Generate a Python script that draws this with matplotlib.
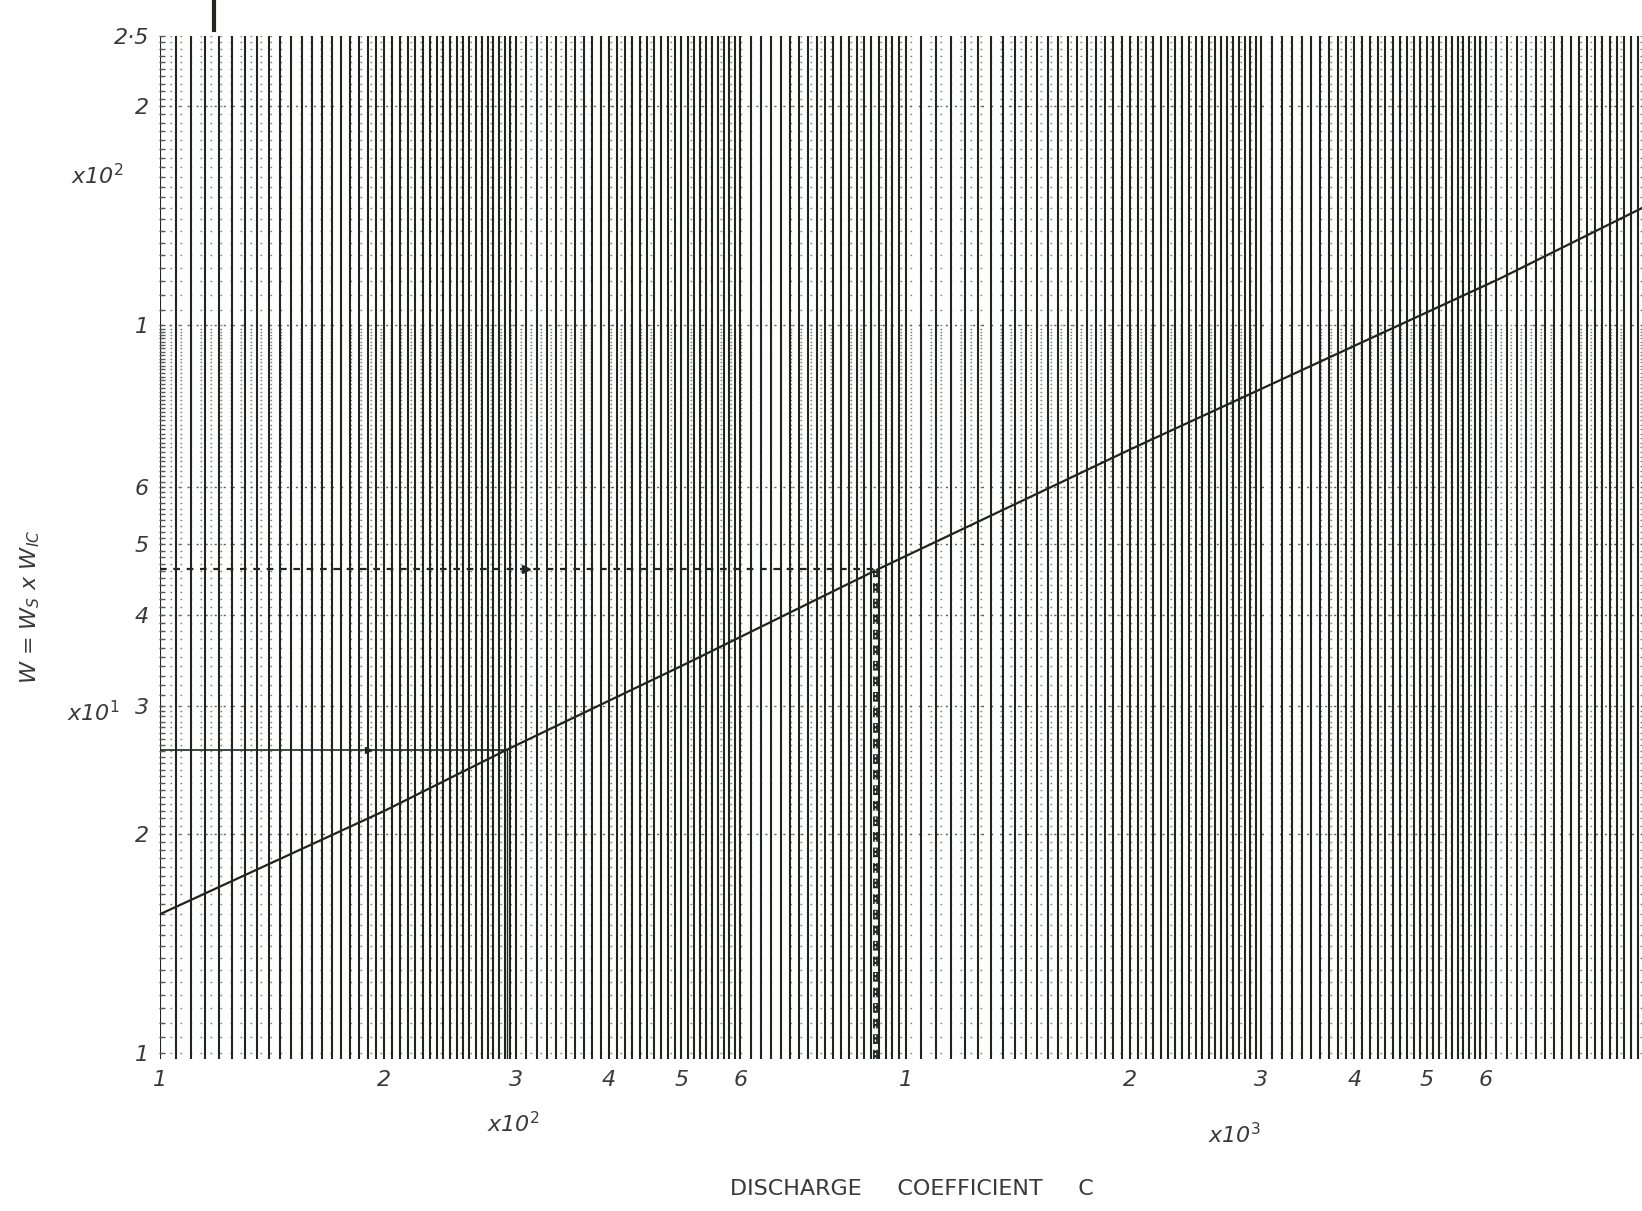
import numpy as np
import matplotlib
matplotlib.use("Agg")
import matplotlib.pyplot as plt

# ---- data ----
C_vals = [100, 200, 292, 500, 910, 2000, 6270, 9720]
W_vals = [15.5, 21.5, 26.1, 34.0, 46.0, 67.5, 116, 145]

# reading lines (construction lines on the chart)
read1_C, read1_W = 292, 26.1     # solid reading line
read2_C, read2_W = 910, 46.3     # dashed / chained reading line

x_ticks = [100, 200, 300, 400, 500, 600, 1000, 2000, 3000, 4000, 5000, 6000]
x_ticklabels = ["1", "2", "3", "4", "5", "6", "1", "2", "3", "4", "5", "6"]
y_ticks = [10, 20, 30, 40, 50, 60, 100, 200, 250]
y_ticklabels = ["1", "2", "3", "4", "5", "6", "1", "2", "2·5"]

ink = "#1f261f"

fig = plt.figure(figsize=(16.42, 12.11), dpi=100)
fig.patch.set_facecolor("white")
ax = fig.add_axes([160/1642, (1211-1059)/1211, 1-160/1642, (1059-36)/1211])
ax.set_xscale("log")
ax.set_yscale("log")
xmin, xmax = 100, 9720
ymin, ymax = 9.8, 250
ax.set_xlim(xmin, xmax)
ax.set_ylim(ymin, ymax)
for s in ax.spines.values():
    s.set_visible(False)

# ---- log graph-paper rulings ----
vx = np.concatenate([np.arange(100, 300, 5), np.arange(300, 600, 10),
                     np.arange(600, 1000, 20), np.arange(1000, 3000, 50),
                     np.arange(3000, 6000, 100), np.arange(6000, 9720, 200)])
ax.vlines(vx, ymin, ymax, colors=ink, lw=1.5, zorder=2)

hy = np.concatenate([np.arange(10, 30, 0.5), np.arange(30, 100, 1),
                     np.arange(100, 255, 5)])
ax.hlines(hy, xmin, xmax, colors="#7a807a", lw=1.0,
          linestyles=(0, (1.2, 6)), zorder=1)
ax.hlines([20, 30, 40, 50, 60, 100, 200], xmin, xmax, colors="#5a605a",
          lw=1.0, linestyles=(0, (1.5, 5)), zorder=1)
ax.plot([xmin * 1.006] * len(hy), hy, ls="none", marker="_", ms=5, mew=1.0,
        color="#555b55", clip_on=False, zorder=3)

# ---- the characteristic line ----
ax.plot(C_vals, W_vals, color=ink, lw=1.6, zorder=4)

# reading lines
ax.plot([xmin, read1_C], [read1_W, read1_W], color=ink, lw=1.2, zorder=4)
ax.plot([read1_C, read1_C], [ymin, read1_W], color=ink, lw=1.0, zorder=4)
ax.plot([xmin, read2_C], [read2_W, read2_W], color=ink, lw=1.6,
        linestyle=(0, (3, 3)), zorder=4)
ax.plot([read2_C, read2_C], [ymin, read2_W], color=ink, lw=3.5,
        linestyle=(0, (2, 1.2)), zorder=4)
ax.plot([read2_C, read2_C], [ymin, read2_W], color="white", lw=1.0,
        linestyle=(0, (1.5, 1.7)), zorder=5)
ax.plot([310], [read2_W], marker=">", color=ink, ms=6, zorder=5)
ax.plot([190], [read1_W], marker=">", color=ink, ms=4, zorder=5)

# pen mark above the top edge
ax.plot([118, 118], [255, 310], color=ink, lw=3, clip_on=False, zorder=5)

# ---- ticks ----
tick_font = dict(family="DejaVu Sans", style="italic", color="#3a3a3a",
                 fontsize=16)
ax.set_xticks(x_ticks)
ax.set_xticklabels(x_ticklabels, **tick_font)
ax.xaxis.set_minor_locator(matplotlib.ticker.NullLocator())
ax.set_yticks(y_ticks)
ax.set_yticklabels(y_ticklabels, **tick_font)
ax.yaxis.set_minor_locator(matplotlib.ticker.NullLocator())
ax.tick_params(axis="both", length=0)
ax.tick_params(axis="x", pad=8)
ax.tick_params(axis="y", pad=8)

# ---- other labels ----
def ftxt(px, py, s, **kw):
    fig.text(px/1642, 1-py/1211, s, **kw)

lab = dict(family="DejaVu Sans", style="italic", color="#3a3a3a", fontsize=16,
           ha="center", va="center")
ftxt(513, 1124, r"x10$^{2}$", **lab)
ftxt(1234, 1135, r"x10$^{3}$", **lab)
ftxt(97, 176, r"x10$^{2}$", **lab)
ftxt(93, 713, r"x10$^{1}$", **lab)
ftxt(30, 607, r"W = W$_{S}$ x W$_{IC}$", rotation=90,
     **dict(lab, fontsize=16))
ftxt(912, 1189, "DISCHARGE     COEFFICIENT     C", family="DejaVu Sans",
     color="#3a3a3a", fontsize=16, ha="center", va="center")

fig.savefig("out.png", dpi=100, facecolor="white")
